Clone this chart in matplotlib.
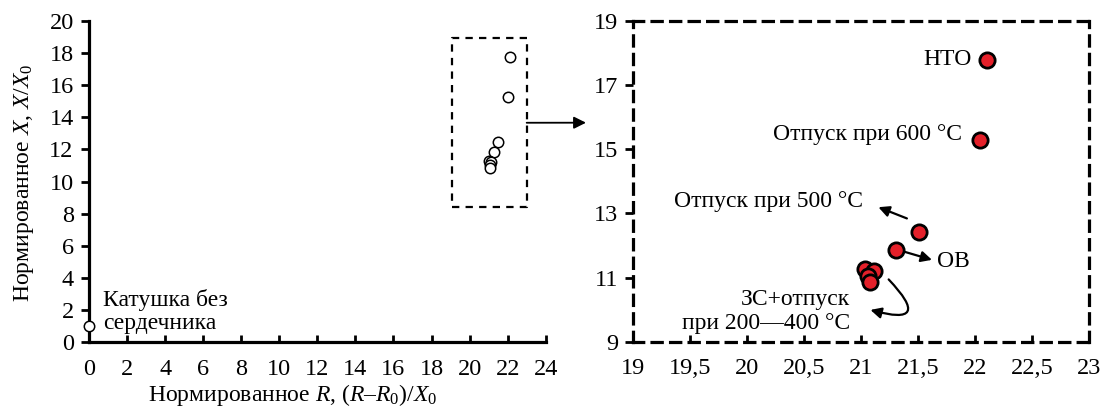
import matplotlib
matplotlib.use("Agg")
import matplotlib.pyplot as plt
import numpy as np

plt.rcParams['font.family'] = ['Liberation Serif', 'DejaVu Serif']
plt.rcParams['mathtext.fontset'] = 'custom'
plt.rcParams['mathtext.rm'] = 'Liberation Serif'
plt.rcParams['mathtext.it'] = 'Liberation Serif:italic'
plt.rcParams['font.size'] = 17

# Measured samples: normalised resistance and reactance
sample_R = [22.10, 22.04, 21.51, 21.30, 21.03, 21.11, 21.06, 21.08]
sample_X = [17.78, 15.28, 12.43, 11.86, 11.26, 11.20, 11.05, 10.87]
# Coil without a core
air_R = [0.0]
air_X = [1.0]

left_xticks = list(range(0, 25, 2))
left_yticks = list(range(0, 21, 2))
right_xticks = [19, 19.5, 20, 20.5, 21, 21.5, 22, 22.5, 23]
right_xlabels = ['19', '19,5', '20', '20,5', '21', '21,5', '22', '22,5', '23']
right_yticks = [9, 11, 13, 15, 17, 19]

W, H = 1102, 418
fig = plt.figure(figsize=(W / 100, H / 100), dpi=100)

def fx(px):
    return px / W

def fy(py):
    return 1 - py / H

# ---- overview panel ----
axL = fig.add_axes([fx(89), fy(342), fx(545.7) - fx(89), fy(21) - fy(342)])
axL.set_xlim(0, 24)
axL.set_ylim(0, 20)
for s in ['top', 'right']:
    axL.spines[s].set_visible(False)
for s in ['left', 'bottom']:
    axL.spines[s].set_linewidth(2.3)
axL.set_xticks(left_xticks)
axL.set_yticks(left_yticks)
axL.tick_params(axis='x', direction='in', length=5, width=2, pad=12, labelsize=17.5)
axL.tick_params(axis='y', direction='out', length=6, width=2, pad=5, labelsize=17.5)

axL.plot(sample_R, sample_X, 'o', ms=7.5, mfc='white', mec='black', mew=1.1, clip_on=False)
axL.plot(air_R, air_X, 'o', ms=7.5, mfc='white', mec='black', mew=1.1, clip_on=False, zorder=5)
axL.text(0.75, 2.62, 'Катушка без', ha='left', va='center')
axL.text(0.75, 1.17, 'сердечника', ha='left', va='center')

# zoom frame
axL.plot([19.05, 23.0, 23.0, 19.05, 19.05], [8.43, 8.43, 18.96, 18.96, 8.43],
         color='black', lw=1.6, ls=(0, (3.3, 2.8)))
axL.annotate('', xy=(fx(586), fy(122.7)), xycoords='figure fraction',
             xytext=(23.0, 13.66), textcoords='data',
             arrowprops=dict(arrowstyle='-|>', lw=1.3, color='black',
                             mutation_scale=18, shrinkA=0, shrinkB=0))

fig.text(fx(24), fy(183), 'Нормированное $X$, $X$/$X_{\\mathrm{0}}$',
         rotation=90, ha='center', va='center')
fig.text(fx(293), fy(395), 'Нормированное $R$, ($R$–$R_{\\mathrm{0}}$)/$X_{\\mathrm{0}}$',
         ha='center', va='center')

# ---- detail panel ----
axR = fig.add_axes([fx(633.3), fy(341.7), fx(1089.3) - fx(633.3), fy(20.7) - fy(341.7)])
axR.set_xlim(19, 23)
axR.set_ylim(9, 19)
for s in axR.spines.values():
    s.set_linewidth(2.3)
    s.set_linestyle((0, (3.2, 2.6)))
axR.set_xticks(right_xticks)
axR.set_xticklabels(right_xlabels)
axR.set_yticks(right_yticks)
axR.tick_params(axis='x', direction='in', length=5, width=2, pad=12, labelsize=17.5)
axR.tick_params(axis='y', direction='out', length=6, width=2, pad=5, labelsize=17.5)

axR.plot(sample_R, sample_X, 'o', ms=11, mfc='#e4202a', mec='black', mew=2.0,
         clip_on=False, zorder=4)

axR.text(21.97, 17.78, 'НТО', ha='right', va='center')
axR.text(21.88, 15.44, 'Отпуск при 600 °C', ha='right', va='center')
axR.text(20.185, 13.36, 'Отпуск при 500 °C', ha='center', va='center')
axR.text(21.66, 11.49, 'ОВ', ha='left', va='center')
axR.text(20.90, 10.30, 'ЗС+отпуск', ha='right', va='center')
axR.text(20.90, 9.57, 'при 200—400 °C', ha='right', va='center')

arrow_kw = dict(arrowstyle='-|>', lw=1.6, color='black', mutation_scale=16,
                shrinkA=0, shrinkB=0)
axR.annotate('', xy=(21.15, 13.19), xytext=(21.40, 12.84), arrowprops=arrow_kw)
axR.annotate('', xy=(21.62, 11.55), xytext=(21.38, 11.80), arrowprops=arrow_kw)
axR.annotate('', xy=(21.08, 9.99), xytext=(21.24, 10.94),
             arrowprops=dict(connectionstyle='arc3,rad=-1.8', **arrow_kw))

fig.savefig('out.png', dpi=100)
